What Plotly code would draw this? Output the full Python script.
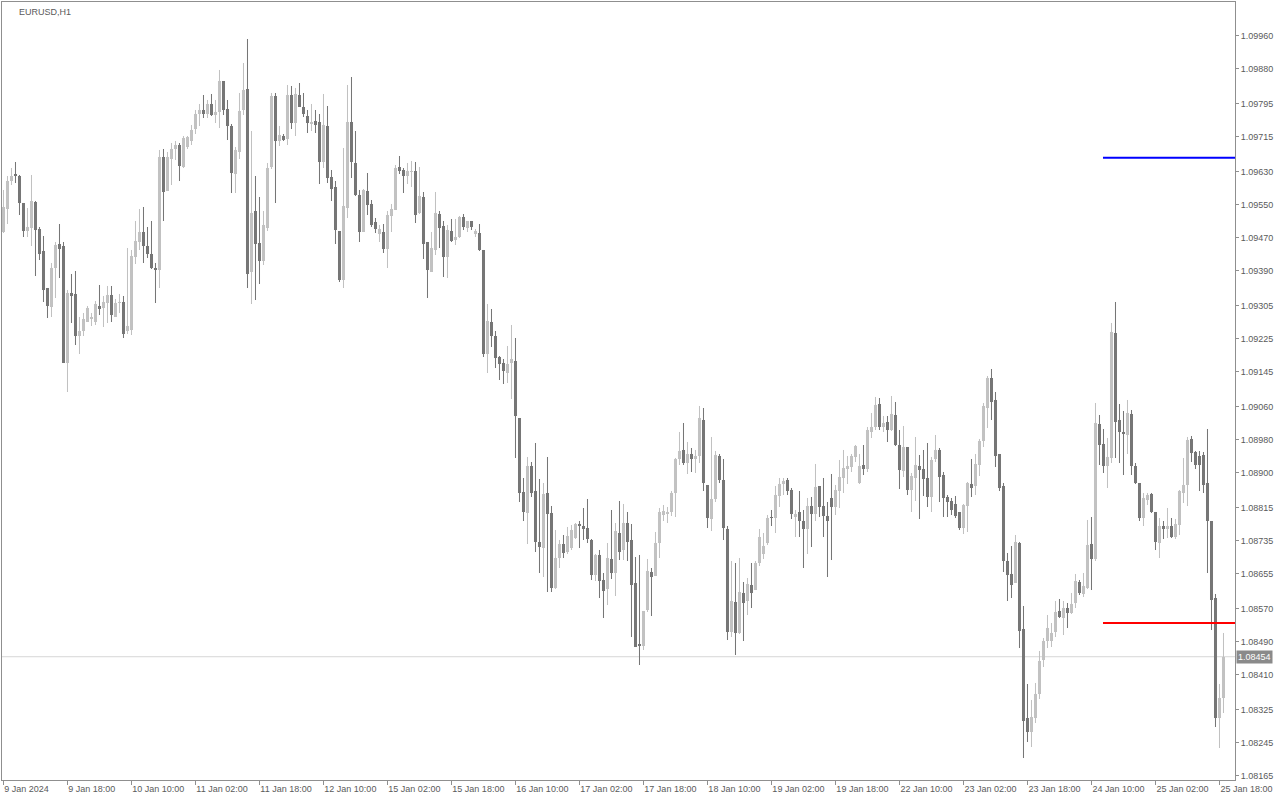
import plotly.graph_objects as go

# ---------------- data (EURUSD H1) ----------------
open_ = [
1.09485,1.09540,1.09609,1.09624,1.09619,1.09554,1.09487,1.09493,1.09558,1.09492,
1.09438,1.09349,1.09303,1.09397,1.09455,1.09450,1.09167,1.09336,1.09334,1.09231,
1.09243,1.09267,1.09274,1.09267,1.09305,1.09301,1.09311,1.09332,1.09279,1.09312,
1.09315,1.09243,1.09247,1.09424,1.09461,1.09485,1.09451,1.09431,1.09396,1.09391,
1.09667,1.09584,1.09662,1.09686,1.09696,1.09643,1.09690,1.09706,1.09733,1.09770,
1.09780,1.09771,1.09795,1.09768,1.09774,1.09851,1.09783,1.09742,1.09625,1.09679,
1.09780,1.09831,1.09387,1.09535,1.09457,1.09413,1.09495,1.09643,1.09815,1.09704,
1.09717,1.09710,1.09817,1.09748,1.09817,1.09788,1.09766,1.09746,1.09754,1.09752,
1.09653,1.09742,1.09617,1.09594,1.09487,1.09368,1.09542,1.09750,1.09651,1.09574,
1.09485,1.09584,1.09552,1.09508,1.09480,1.09485,1.09443,1.09524,1.09538,1.09641,
1.09635,1.09621,1.09630,1.09631,1.09530,1.09568,1.09459,1.09388,1.09441,1.09528,
1.09499,1.09424,1.09487,1.09465,1.09472,1.09520,1.09495,1.09510,1.09479,1.09481,
1.09441,1.09189,1.09267,1.09232,1.09182,1.09166,1.09143,1.09167,1.09172,1.09033,
1.08853,1.08802,1.08917,1.08857,1.08732,1.08717,1.08851,1.08802,1.08620,1.08693,
1.08727,1.08709,1.08717,1.08743,1.08775,1.08771,1.08766,1.08737,1.08652,1.08701,
1.08640,1.08619,1.08690,1.08658,1.08753,1.08713,1.08778,1.08737,1.08634,1.08485,
1.08480,1.08568,1.08660,1.08651,1.08731,1.08798,1.08800,1.08804,1.08852,1.08933,
1.08956,1.08923,1.08946,1.08933,1.08940,1.09028,1.08871,1.08788,1.08836,1.08941,
1.08883,1.08764,1.08515,1.08586,1.08511,1.08608,1.08590,1.08628,1.08616,1.08682,
1.08703,1.08731,1.08794,1.08790,1.08844,1.08873,1.08883,1.08859,1.08793,1.08804,
1.08784,1.08764,1.08820,1.08800,1.08867,1.08820,1.08796,1.08840,1.08816,1.08857,
1.08888,1.08909,1.08915,1.08938,1.08875,1.08919,1.08909,1.09000,1.09012,1.09067,
1.09012,1.09024,1.09004,1.09041,1.08968,1.08905,1.08962,1.08859,1.08888,1.08917,
1.08910,1.08888,1.08842,1.08933,1.08956,1.08895,1.08842,1.08832,1.08825,1.08804,
1.08766,1.08820,1.08873,1.08867,1.08919,1.08978,1.09058,1.09130,1.09077,1.08946,
1.08867,1.08686,1.08654,1.08634,1.08731,1.08521,1.08306,1.08272,1.08305,1.08363,
1.08446,1.08491,1.08491,1.08515,1.08565,1.08547,1.08573,1.08561,1.08585,1.08635,
1.08606,1.08620,1.08728,1.08690,1.09019,1.08970,1.08917,1.08937,1.09239,1.09028,
1.09000,1.08992,1.09043,1.08917,1.08875,1.08790,1.08834,1.08849,1.08804,1.08731,
1.08770,1.08764,1.08770,1.08745,1.08774,1.08852,1.08871,1.08982,1.08951,1.08941,
1.08944,1.08875,1.08784,1.08596,1.08306,1.08353,
]
high = [
1.09586,1.09619,1.09639,1.09654,1.09623,1.09555,1.09542,1.09623,1.09560,1.09496,
1.09475,1.09349,1.09409,1.09461,1.09504,1.09461,1.09344,1.09383,1.09390,1.09279,
1.09287,1.09305,1.09287,1.09318,1.09356,1.09328,1.09352,1.09352,1.09322,1.09333,
1.09328,1.09445,1.09441,1.09512,1.09540,1.09546,1.09497,1.09512,1.09410,1.09683,
1.09685,1.09677,1.09700,1.09704,1.09700,1.09717,1.09717,1.09744,1.09780,1.09795,
1.09817,1.09805,1.09819,1.09805,1.09878,1.09851,1.09805,1.09746,1.09691,1.09821,
1.09895,1.09952,1.09730,1.09620,1.09568,1.09536,1.09651,1.09822,1.09821,1.09742,
1.09722,1.09841,1.09839,1.09833,1.09845,1.09822,1.09780,1.09795,1.09780,1.09771,
1.09819,1.09790,1.09635,1.09609,1.09487,1.09688,1.09841,1.09860,1.09730,1.09586,
1.09589,1.09627,1.09562,1.09518,1.09501,1.09504,1.09534,1.09552,1.09647,1.09669,
1.09639,1.09651,1.09657,1.09653,1.09643,1.09580,1.09459,1.09483,1.09582,1.09536,
1.09512,1.09501,1.09516,1.09515,1.09522,1.09528,1.09512,1.09512,1.09492,1.09504,
1.09441,1.09310,1.09298,1.09243,1.09184,1.09176,1.09208,1.09259,1.09227,1.09033,
1.08888,1.08939,1.08926,1.08972,1.08885,1.08876,1.08939,1.08820,1.08762,1.08737,
1.08750,1.08768,1.08774,1.08779,1.08782,1.08814,1.08836,1.08739,1.08703,1.08713,
1.08658,1.08729,1.08810,1.08779,1.08832,1.08825,1.08806,1.08775,1.08697,1.08701,
1.08566,1.08691,1.08669,1.08757,1.08814,1.08822,1.08817,1.08855,1.08936,1.09000,
1.09022,1.08976,1.08960,1.08956,1.09061,1.09057,1.08871,1.08988,1.08953,1.08945,
1.08933,1.08770,1.08685,1.08681,1.08693,1.08636,1.08646,1.08681,1.08685,1.08764,
1.08754,1.08798,1.08810,1.08867,1.08887,1.08887,1.08887,1.08863,1.08810,1.08856,
1.08810,1.08839,1.08841,1.08922,1.08868,1.08887,1.08830,1.08897,1.08871,1.08930,
1.08956,1.08941,1.08946,1.08968,1.08946,1.08968,1.09012,1.09045,1.09085,1.09081,
1.09038,1.09037,1.09087,1.09071,1.09003,1.09014,1.08962,1.08899,1.08987,1.08944,
1.08956,1.08972,1.08938,1.08992,1.08960,1.08902,1.08846,1.08838,1.08844,1.08804,
1.08825,1.08879,1.08933,1.08945,1.08982,1.09070,1.09136,1.09152,1.09097,1.08946,
1.08876,1.08705,1.08723,1.08750,1.08733,1.08576,1.08388,1.08349,1.08390,1.08469,
1.08499,1.08554,1.08537,1.08588,1.08594,1.08588,1.08584,1.08609,1.08655,1.08640,
1.08656,1.08786,1.08792,1.09069,1.09041,1.09006,1.08984,1.09263,1.09314,1.09067,
1.09049,1.09077,1.09053,1.08923,1.08876,1.08851,1.08852,1.08852,1.08806,1.08791,
1.08782,1.08814,1.08791,1.08788,1.08859,1.08936,1.08988,1.08990,1.08953,1.08953,
1.08951,1.09006,1.08784,1.08606,1.08388,1.08511,
]
low = [
1.09482,1.09504,1.09597,1.09603,1.09526,1.09473,1.09473,1.09450,1.09378,1.09417,
1.09315,1.09275,1.09279,1.09324,1.09372,1.09166,1.09097,1.09264,1.09210,1.09189,
1.09232,1.09265,1.09255,1.09259,1.09282,1.09253,1.09264,1.09267,1.09279,1.09287,
1.09228,1.09237,1.09235,1.09406,1.09441,1.09409,1.09422,1.09394,1.09311,1.09348,
1.09512,1.09584,1.09598,1.09659,1.09607,1.09639,1.09685,1.09696,1.09722,1.09742,
1.09760,1.09760,1.09766,1.09748,1.09736,1.09768,1.09708,1.09578,1.09578,1.09661,
1.09768,1.09348,1.09310,1.09320,1.09358,1.09404,1.09487,1.09637,1.09554,1.09693,
1.09705,1.09696,1.09734,1.09718,1.09787,1.09764,1.09724,1.09728,1.09724,1.09601,
1.09639,1.09603,1.09560,1.09455,1.09364,1.09349,1.09519,1.09615,1.09572,1.09461,
1.09483,1.09526,1.09497,1.09481,1.09461,1.09433,1.09398,1.09485,1.09538,1.09625,
1.09578,1.09601,1.09594,1.09507,1.09528,1.09419,1.09325,1.09388,1.09429,1.09445,
1.09376,1.09372,1.09459,1.09453,1.09469,1.09489,1.09483,1.09489,1.09472,1.09437,
1.09182,1.09143,1.09206,1.09154,1.09126,1.09115,1.09119,1.09079,1.08936,1.08830,
1.08784,1.08728,1.08842,1.08707,1.08658,1.08648,1.08612,1.08612,1.08619,1.08670,
1.08693,1.08703,1.08713,1.08739,1.08717,1.08737,1.08729,1.08640,1.08638,1.08597,
1.08547,1.08580,1.08642,1.08601,1.08689,1.08689,1.08685,1.08503,1.08477,1.08434,
1.08470,1.08563,1.08553,1.08650,1.08693,1.08784,1.08778,1.08796,1.08794,1.08919,
1.08919,1.08897,1.08903,1.08899,1.08923,1.08855,1.08767,1.08759,1.08830,1.08875,
1.08736,1.08495,1.08503,1.08457,1.08509,1.08491,1.08555,1.08572,1.08616,1.08675,
1.08690,1.08724,1.08770,1.08755,1.08816,1.08846,1.08846,1.08788,1.08745,1.08745,
1.08670,1.08703,1.08719,1.08784,1.08794,1.08745,1.08648,1.08689,1.08798,1.08814,
1.08851,1.08873,1.08903,1.08927,1.08873,1.08895,1.08903,1.08984,1.09004,1.09004,
1.09000,1.08976,1.09002,1.08966,1.08861,1.08891,1.08846,1.08806,1.08832,1.08788,
1.08844,1.08816,1.08806,1.08927,1.08830,1.08794,1.08794,1.08798,1.08790,1.08762,
1.08751,1.08757,1.08842,1.08846,1.08893,1.08962,1.09008,1.09028,1.08915,1.08855,
1.08660,1.08590,1.08596,1.08632,1.08476,1.08208,1.08248,1.08236,1.08294,1.08351,
1.08428,1.08476,1.08478,1.08503,1.08547,1.08507,1.08523,1.08558,1.08572,1.08604,
1.08600,1.08618,1.08616,1.08687,1.08919,1.08900,1.08863,1.08925,1.08936,1.08923,
1.08895,1.08945,1.08895,1.08873,1.08784,1.08770,1.08822,1.08802,1.08713,1.08693,
1.08739,1.08741,1.08741,1.08739,1.08750,1.08828,1.08820,1.08927,1.08909,1.08856,
1.08851,1.08657,1.08519,1.08284,1.08232,1.08317,
]
close = [
1.09546,1.09609,1.09620,1.09619,1.09554,1.09487,1.09496,1.09560,1.09489,1.09431,
1.09344,1.09305,1.09397,1.09453,1.09443,1.09167,1.09336,1.09330,1.09232,1.09244,
1.09274,1.09299,1.09279,1.09310,1.09298,1.09314,1.09332,1.09282,1.09313,1.09315,
1.09236,1.09255,1.09426,1.09463,1.09485,1.09451,1.09430,1.09396,1.09393,1.09667,
1.09582,1.09665,1.09686,1.09696,1.09645,1.09713,1.09714,1.09732,1.09771,1.09780,
1.09771,1.09795,1.09768,1.09776,1.09851,1.09779,1.09742,1.09628,1.09682,1.09778,
1.09829,1.09382,1.09531,1.09455,1.09413,1.09501,1.09640,1.09813,1.09704,1.09720,
1.09708,1.09817,1.09748,1.09819,1.09788,1.09770,1.09748,1.09750,1.09744,1.09655,
1.09744,1.09616,1.09589,1.09488,1.09368,1.09548,1.09750,1.09655,1.09574,1.09485,
1.09586,1.09550,1.09501,1.09491,1.09492,1.09443,1.09526,1.09540,1.09640,1.09633,
1.09619,1.09633,1.09632,1.09526,1.09572,1.09455,1.09392,1.09446,1.09531,1.09495,
1.09424,1.09489,1.09463,1.09472,1.09520,1.09497,1.09511,1.09496,1.09487,1.09441,
1.09189,1.09269,1.09232,1.09178,1.09164,1.09146,1.09164,1.09176,1.09039,1.08851,
1.08804,1.08917,1.08852,1.08733,1.08719,1.08849,1.08800,1.08620,1.08693,1.08727,
1.08705,1.08747,1.08762,1.08775,1.08770,1.08764,1.08740,1.08652,1.08701,1.08638,
1.08614,1.08693,1.08658,1.08759,1.08709,1.08778,1.08733,1.08628,1.08478,1.08480,
1.08566,1.08662,1.08648,1.08729,1.08804,1.08808,1.08804,1.08852,1.08933,1.08953,
1.08925,1.08946,1.08933,1.08941,1.09034,1.08875,1.08790,1.08837,1.08944,1.08883,
1.08766,1.08515,1.08588,1.08511,1.08612,1.08585,1.08630,1.08608,1.08682,1.08745,
1.08723,1.08791,1.08790,1.08846,1.08873,1.08880,1.08855,1.08800,1.08800,1.08784,
1.08764,1.08820,1.08800,1.08865,1.08816,1.08796,1.08782,1.08816,1.08859,1.08889,
1.08911,1.08917,1.08941,1.08965,1.08917,1.08910,1.09004,1.09012,1.09065,1.09012,
1.09020,1.09004,1.09043,1.08968,1.08907,1.08962,1.08859,1.08893,1.08919,1.08907,
1.08885,1.08842,1.08931,1.08956,1.08891,1.08840,1.08830,1.08810,1.08796,1.08766,
1.08822,1.08876,1.08864,1.08922,1.08978,1.09063,1.09130,1.09073,1.08942,1.08864,
1.08685,1.08652,1.08628,1.08732,1.08517,1.08298,1.08272,1.08309,1.08364,1.08444,
1.08491,1.08523,1.08512,1.08563,1.08551,1.08572,1.08559,1.08581,1.08638,1.08609,
1.08626,1.08725,1.08690,1.09020,1.08968,1.08917,1.08939,1.09241,1.09024,1.09000,
1.08994,1.09045,1.08917,1.08875,1.08791,1.08839,1.08846,1.08804,1.08733,1.08770,
1.08764,1.08770,1.08744,1.08776,1.08855,1.08871,1.08980,1.08949,1.08919,1.08919,
1.08871,1.08782,1.08592,1.08306,1.08353,1.08454,
]

tick_labels = [
    "9 Jan 2024", "9 Jan 18:00", "10 Jan 10:00", "11 Jan 02:00", "11 Jan 18:00",
    "12 Jan 10:00", "15 Jan 02:00", "15 Jan 18:00", "16 Jan 10:00", "17 Jan 02:00",
    "17 Jan 18:00", "18 Jan 10:00", "19 Jan 02:00", "19 Jan 18:00", "22 Jan 10:00",
    "23 Jan 02:00", "23 Jan 18:00", "24 Jan 10:00", "25 Jan 02:00", "25 Jan 18:00",
]
bars_per_label = 16

price_ticks = [
    1.09960, 1.09880, 1.09795, 1.09715, 1.09630, 1.09550, 1.09470, 1.09390,
    1.09305, 1.09225, 1.09145, 1.09060, 1.08980, 1.08900, 1.08815, 1.08735,
    1.08655, 1.08570, 1.08490, 1.08410, 1.08325, 1.08245, 1.08165,
]

last_price = 1.08454
blue_level = 1.09664
red_level = 1.08536
level_start_bar = 275
symbol_title = "EURUSD,H1"

# ---------------- styling ----------------
BULL = "#c2c2c2"
BEAR = "#767676"
FONT = "Liberation Sans"
TEXT = "#5a5a5a"
AXIS = "#8f8f8f"

n = len(close)
bars = list(range(n))
colors = [BULL if c >= o else BEAR for o, c in zip(open_, close)]
body_base = [min(o, c) for o, c in zip(open_, close)]
body_h = [max(abs(c - o), 0.00003) for o, c in zip(open_, close)]
wick_h = [h - l for h, l in zip(high, low)]

x_min, x_max = -0.33, 307.9
y_min, y_max = 1.08155, 1.10042

fig = go.Figure()
# a hairline outline makes plotly snap bar edges to whole pixels
fig.add_trace(go.Bar(x=bars, y=wick_h, base=low, width=0.26,
                     marker=dict(color=colors, line=dict(width=0.02, color=colors)),
                     hoverinfo="skip"))
fig.add_trace(go.Bar(x=bars, y=body_h, base=body_base, width=0.76,
                     marker=dict(color=colors, line=dict(width=0.02, color=colors)),
                     hoverinfo="skip"))

shapes = [
    dict(type="line", xref="paper", yref="y", x0=0, x1=1, y0=last_price, y1=last_price,
         line=dict(color="#d6d6d6", width=1), layer="below"),
    dict(type="line", xref="x", yref="y", x0=level_start_bar - 0.1, x1=x_max,
         y0=blue_level, y1=blue_level, line=dict(color="#0000ff", width=2)),
    dict(type="line", xref="x", yref="y", x0=level_start_bar - 0.1, x1=x_max,
         y0=red_level, y1=red_level, line=dict(color="#ff0000", width=2)),
]

annotations = [
    dict(xref="paper", yref="paper", x=0, y=1, xanchor="left", yanchor="top",
         xshift=15, yshift=-3, text=symbol_title, showarrow=False,
         font=dict(family=FONT, size=9, color=TEXT)),
    dict(xref="paper", yref="y", x=1, y=last_price, xanchor="left", yanchor="middle",
         xshift=1, text=f"{last_price:.5f}", showarrow=False, bgcolor="#8a8a8a",
         borderpad=1, font=dict(family=FONT, size=9, color="#ffffff")),
]

fig.update_layout(
    width=1280, height=800,
    margin=dict(l=2, r=45, t=2, b=20, autoexpand=False),
    paper_bgcolor="white", plot_bgcolor="white",
    barmode="overlay", bargap=0, bargroupgap=0, showlegend=False,
    shapes=shapes, annotations=annotations,
    xaxis=dict(
        range=[x_min, x_max],
        tickvals=[i * bars_per_label for i in range(len(tick_labels))],
        ticktext=tick_labels,
        ticks="outside", ticklen=4, tickcolor=AXIS,
        ticklabelposition="outside right",
        tickfont=dict(family=FONT, size=9, color=TEXT),
        showgrid=False, zeroline=False,
        showline=True, linecolor=AXIS, linewidth=1, mirror=True,
    ),
    yaxis=dict(
        side="right", range=[y_min, y_max],
        tickvals=price_ticks, ticktext=[f"{v:.5f}" for v in price_ticks],
        ticks="outside", ticklen=3, tickcolor=AXIS,
        tickfont=dict(family=FONT, size=9, color=TEXT),
        showgrid=False, zeroline=False,
        showline=True, linecolor=AXIS, linewidth=1, mirror=True,
    ),
)

fig.write_html(
    "out.html",
    config={"displayModeBar": False},
    post_script="document.body.style.margin='0';document.body.style.overflow='hidden';",
)
